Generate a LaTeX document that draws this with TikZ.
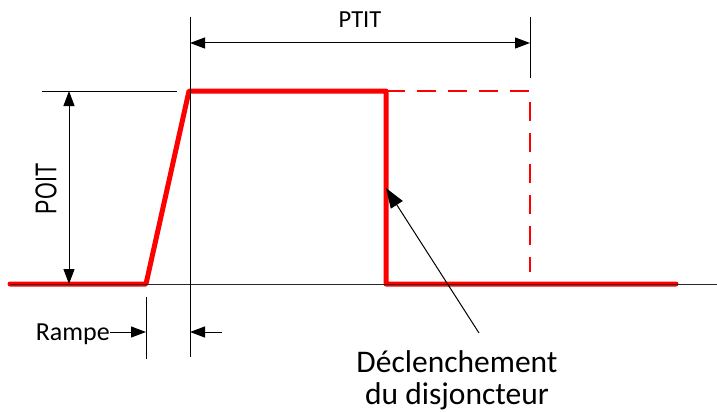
\documentclass[tikz,border=0pt]{standalone}
\usepackage{fontspec}
\setmainfont{Carlito}
\newfontfamily\arialfont{Liberation Sans}
\usetikzlibrary{arrows.meta}
\tikzset{
  thin line/.style={draw=black, line width=1pt},
  dim arrow/.style={thin line, {Triangle[length=15pt,width=11pt]}-{Triangle[length=15pt,width=11pt]}},
  one arrow/.style={thin line, -{Triangle[length=15pt,width=11pt]}},
  signal/.style={draw=red, line width=5pt, line join=round, line cap=round},
  signal dashed/.style={draw=red, line width=2.8pt, dash pattern=on 19pt off 12pt},
  lbl/.style={inner sep=0pt, text=black}
}
\begin{document}
\begin{tikzpicture}[x=1pt,y=-1pt]
\useasboundingbox (0,0) rectangle (717,412);
% key points
\coordinate (s0) at (10,284);
\coordinate (r0) at (146,284);
\coordinate (r1) at (189,91);
\coordinate (f0) at (386,91);
\coordinate (f1) at (386,284);
\coordinate (s1) at (676,284);
\coordinate (d1) at (530,91);
\coordinate (d2) at (530,272);
% red signal
\draw[signal] (s0) -- (r0) -- (r1) -- (f0) -- (f1) -- (s1);
\draw[signal dashed] (f0) -- (d1) -- (d2);
% axis and reference lines
\coordinate (ax0) at (10,284);
\coordinate (ax1) at (717,284);
\draw[thin line, draw=black!85] (ax0) -- (ax1);
\coordinate (v1a) at (190,17);
\coordinate (v1b) at (190,357);
\draw[thin line] (v1a) -- (v1b);
\coordinate (v2a) at (530,17);
\coordinate (v2b) at (530,78);
\draw[thin line] (v2a) -- (v2b);
\coordinate (v3a) at (146,297);
\coordinate (v3b) at (146,359);
\draw[thin line] (v3a) -- (v3b);
\coordinate (h1a) at (42,91);
\coordinate (h1b) at (177,91);
\draw[thin line] (h1a) -- (h1b);
% PTIT
\coordinate (pt0) at (190,43);
\coordinate (pt1) at (530,43);
\draw[dim arrow] (pt0) -- (pt1);
\node[lbl, anchor=base, font=\fontsize{24.5}{28}\selectfont] (ptit) at (360,28) {PTIT};
% POIT
\coordinate (po0) at (69,91);
\coordinate (po1) at (69,284);
\draw[dim arrow] (po0) -- (po1);
\node[lbl, rotate=90, font=\arialfont\fontsize{30}{34}\selectfont] (poit) at (46,189) {\scalebox{0.72}[1]{POIT}};
% Rampe
\node[lbl, anchor=base east, font=\fontsize{26}{30}\selectfont] (rampe) at (110,340) {Rampe};
\coordinate (ra1) at (146,332);
\draw[one arrow] (rampe.east |- ra1) -- (ra1);
\coordinate (rb0) at (222,332);
\coordinate (rb1) at (190,332);
\draw[one arrow] (rb0) -- (rb1);
% Declenchement
\node[lbl, anchor=base, font=\fontsize{31.5}{36}\selectfont] (decl) at (457,372) {Déclenchement};
\node[lbl, anchor=base, font=\fontsize{31.5}{36}\selectfont] (disj) at (457,404) {du disjoncteur};
\coordinate (tipd) at (386,188);
\coordinate (taild) at (479,333);
\draw[thin line, -{Triangle[length=20pt,width=14pt]}] (taild) -- (tipd);
\end{tikzpicture}
\end{document}
